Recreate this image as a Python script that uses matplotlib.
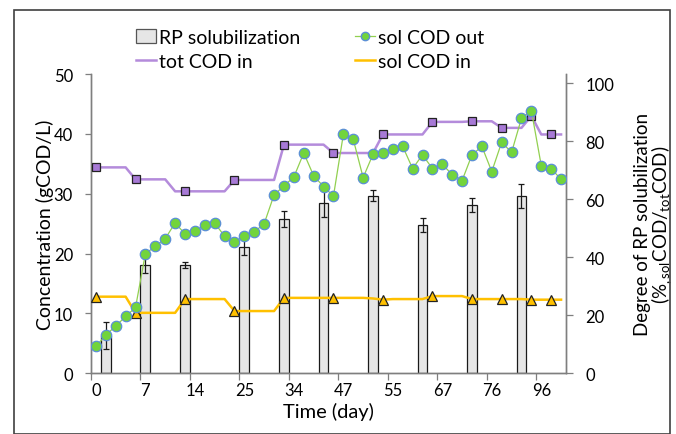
import matplotlib
matplotlib.use("Agg")
import matplotlib.pyplot as plt
from matplotlib.patches import Patch, Rectangle
from matplotlib.lines import Line2D
import numpy as np

plt.rcParams['font.family'] = ['Lato', 'DejaVu Sans']

# x axis: one category per sample, a label every 5th category
tick_days = ['0', '7', '14', '25', '34', '47', '55', '67', '76', '96']

# soluble COD out (gCOD/L), one value per category
sol_cod_out = [4.5, 6.4, 7.9, 9.5, 11.0, 20.0, 21.2, 22.5, 25.1, 23.3,
               23.8, 24.7, 25.1, 22.9, 22.0, 22.9, 23.6, 25.0, 29.8, 31.3,
               32.8, 36.8, 33.0, 31.2, 29.6, 39.9, 39.1, 32.7, 36.6, 36.8,
               37.5, 37.9, 34.2, 36.5, 34.2, 34.9, 33.2, 32.2, 36.5, 37.9,
               33.7, 38.6, 36.9, 42.6, 43.9, 34.7, 34.2, 32.4]

# total COD in (gCOD/L)
tot_cod_in = [34.4, 34.4, 34.4, 34.4, 32.4, 32.4, 32.4, 32.4, 30.4, 30.4,
              30.4, 30.4, 30.4, 30.4, 32.3, 32.3, 32.3, 32.3, 32.3, 38.2,
              38.2, 38.2, 38.2, 38.2, 36.8, 36.8, 36.8, 36.8, 36.8, 39.9,
              39.9, 39.9, 39.9, 39.9, 42.0, 42.0, 42.0, 42.0, 42.1, 42.1,
              42.1, 41.0, 41.0, 41.0, 43.0, 39.9, 39.9, 39.9]

# soluble COD in (gCOD/L)
sol_cod_in = [12.8, 12.8, 12.8, 12.8, 10.1, 10.1, 10.1, 10.1, 10.1, 12.4,
              12.4, 12.4, 12.4, 12.4, 10.4, 10.4, 10.4, 10.4, 10.4, 12.6,
              12.6, 12.6, 12.6, 12.6, 12.6, 12.6, 12.6, 12.6, 12.5, 12.3,
              12.4, 12.4, 12.4, 12.4, 12.9, 12.9, 12.9, 12.9, 12.4, 12.4,
              12.4, 12.4, 12.4, 12.4, 12.3, 12.3, 12.3, 12.3]

# categories carrying a marker on the influent lines
inlet_samples = [0, 4, 9, 14, 19, 24, 29, 34, 38, 41, 44, 46]

# RP solubilization (%), right axis
rp_cats = [1, 5, 9, 15, 19, 23, 28, 33, 38, 43]
rp_sol = [13.0, 37.3, 37.3, 43.7, 53.2, 58.7, 61.2, 51.2, 58.0, 61.1]
rp_err = [4.6, 2.6, 1.0, 2.9, 2.9, 4.7, 1.9, 2.5, 2.3, 4.0]

x = np.arange(len(sol_cod_out))

fig = plt.figure(figsize=(6.76, 4.35), dpi=100)
W, H = 676, 435
ax = fig.add_axes([91 / W, (H - 374.3) / H, 475 / W, (374.3 - 75) / H])
ax2 = ax.twinx()

# bars behind the lines
ax2.set_zorder(1)
ax.set_zorder(2)
ax.patch.set_visible(False)

ax2.bar(rp_cats, rp_sol, width=1.0, color='#E6E6E6', edgecolor='#1a1a1a',
        linewidth=0.9, yerr=rp_err, capsize=2.5,
        error_kw=dict(ecolor='#1a1a1a', elinewidth=0.9, capthick=0.9))

purple = '#B48BDB'
yellow = '#FFC000'
ax.plot(x, tot_cod_in, color=purple, lw=1.8, zorder=3)
ax.plot(x, sol_cod_in, color=yellow, lw=1.8, zorder=3)
ax.plot(x[inlet_samples], np.array(tot_cod_in)[inlet_samples], ls='none',
        marker='s', ms=5.5, mfc='#A779D6', mec='#222222', mew=0.9, zorder=4)
ax.plot(x[inlet_samples], np.array(sol_cod_in)[inlet_samples], ls='none',
        marker='^', ms=6.5, mfc=yellow, mec='#222222', mew=0.9, zorder=4)
ax.plot(x, sol_cod_out, color='#92D050', lw=0.9, marker='o', ms=7.5,
        mfc='#72D43C', mec='#5B8FD6', mew=0.9, zorder=5)

ax.set_xlim(-0.5, len(x) - 0.5)
ax.set_ylim(0, 50)
ax.set_yticks(range(0, 51, 10))
ax2.set_ylim(0, 103.2)
ax2.set_yticks(range(0, 101, 20))

ax.set_xticks(np.arange(0, len(x), 5))
ax.set_xticklabels(tick_days)
ax.set_xticks(np.arange(-0.5, 45, 5), minor=True)
ax.tick_params(axis='x', which='major', length=0, pad=6, labelsize=12)
ax.tick_params(axis='x', which='minor', length=5, width=0.9, color='#7f7f7f')
ax.tick_params(axis='y', length=4, width=0.9, color='#7f7f7f', pad=9,
               labelsize=12)
ax2.tick_params(axis='y', length=5, width=0.9, color='#7f7f7f', pad=9,
                labelsize=12)

for a in (ax, ax2):
    a.spines['top'].set_visible(False)
    for s in ('left', 'right', 'bottom'):
        a.spines[s].set_color('#7f7f7f')
        a.spines[s].set_linewidth(1.0)

ax.set_xlabel('Time (day)', fontsize=14.5, labelpad=3)
ax.set_ylabel('Concentration (gCOD/L)', fontsize=14, labelpad=0)
ax2.set_ylabel('Degree of RP solubilization\n'
               r'(%$_{\mathregular{,sol}}$COD/$_{\mathregular{tot}}$COD)',
               fontsize=13.5, labelpad=14, linespacing=0.9)

handles = [
    Patch(facecolor='#E6E6E6', edgecolor='#555555', linewidth=0.9),
    Line2D([], [], color=purple, lw=1.8),
    Line2D([], [], color='#92D050', lw=0.9, marker='o', ms=6,
           mfc='#72D43C', mec='#5B8FD6'),
    Line2D([], [], color=yellow, lw=1.8),
]
labels = ['RP solubilization', 'tot COD in', 'sol COD out', 'sol COD in']
fig.legend(handles, labels, ncol=2, loc='upper left',
           bbox_to_anchor=(126 / W, 1 - 20 / H), frameon=False,
           fontsize=14, handlelength=1.05, handletextpad=0.15,
           columnspacing=2.8, labelspacing=0.35, borderpad=0)

# chart area border
fig.patches.append(Rectangle((14 / W, 0.5 / H), 656 / W, 1 - 11.5 / H,
                             transform=fig.transFigure, fill=False,
                             edgecolor='#404040', linewidth=1.2))

fig.savefig('out.png', dpi=100)
